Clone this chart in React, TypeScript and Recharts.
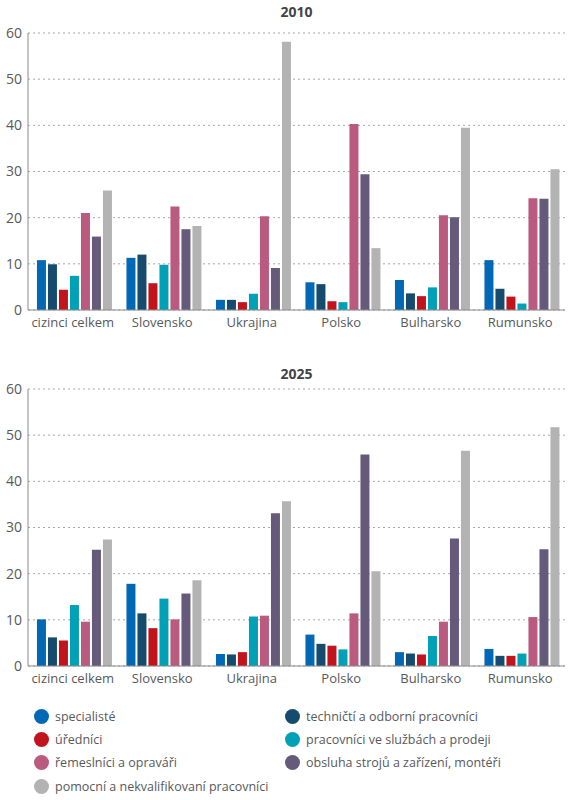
import React from "react"
import { BarChart, Bar, XAxis, YAxis, CartesianGrid } from "recharts"

const categories = ["cizinci celkem", "Slovensko", "Ukrajina", "Polsko", "Bulharsko", "Rumunsko"]
const yTicks = [0, 10, 20, 30, 40, 50, 60]

const seriesNames = [
  "specialisté",
  "techničtí a odborní pracovníci",
  "úředníci",
  "pracovníci ve službách a prodeji",
  "řemeslníci a opraváři",
  "obsluha strojů a zařízení, montéři",
  "pomocní a nekvalifikovaní pracovníci",
]
const colors = ["#0068b4", "#154b6c", "#c1141c", "#00a0b6", "#ba5a7e", "#665a7b", "#b3b3b3"]

// 2010
const specialiste2010 = [10.8, 11.3, 2.2, 6.0, 6.5, 10.8]
const technicti2010 = [9.9, 12.0, 2.2, 5.6, 3.6, 4.6]
const urednici2010 = [4.4, 5.8, 1.7, 1.9, 3.0, 2.9]
const sluzby2010 = [7.4, 9.8, 3.5, 1.7, 4.9, 1.4]
const remeslnici2010 = [21.0, 22.4, 20.3, 40.3, 20.5, 24.2]
const obsluha2010 = [15.9, 17.5, 9.1, 29.4, 20.1, 24.1]
const pomocni2010 = [25.9, 18.2, 58.1, 13.4, 39.5, 30.5]

// 2025
const specialiste2025 = [10.1, 17.8, 2.6, 6.8, 3.0, 3.7]
const technicti2025 = [6.2, 11.4, 2.5, 4.8, 2.7, 2.2]
const urednici2025 = [5.5, 8.2, 3.0, 4.4, 2.5, 2.2]
const sluzby2025 = [13.2, 14.6, 10.7, 3.6, 6.5, 2.7]
const remeslnici2025 = [9.6, 10.1, 10.9, 11.4, 9.6, 10.6]
const obsluha2025 = [25.2, 15.7, 33.1, 45.8, 27.6, 25.3]
const pomocni2025 = [27.4, 18.6, 35.7, 20.5, 46.6, 51.7]

const keys = ["s0", "s1", "s2", "s3", "s4", "s5", "s6"]

function buildRows(series: number[][]) {
  return categories.map((name, i) => {
    const row: Record<string, string | number> = { name }
    series.forEach((vals, k) => (row[keys[k]] = vals[i]))
    return row
  })
}

const data2010 = buildRows([
  specialiste2010, technicti2010, urednici2010, sluzby2010, remeslnici2010, obsluha2010, pomocni2010,
])
const data2025 = buildRows([
  specialiste2025, technicti2025, urednici2025, sluzby2025, remeslnici2025, obsluha2025, pomocni2025,
])

const font = "'Open Sans', sans-serif"
const textColor = "#58595b"

function Panel({ data, title, top, titleTop }: { data: any[]; title: string; top: number; titleTop: number }) {
  return (
    <div style={{ position: "absolute", left: 0, top, width: 571, height: 345 }}>
      <div
        style={{
          position: "absolute",
          left: 28,
          width: 537,
          top: titleTop,
          lineHeight: "18px",
          textAlign: "center",
          fontWeight: 700,
          fontSize: 14,
          color: "#444",
          fontFamily: font,
        }}
      >
        {title}
      </div>
      <BarChart
        width={571}
        height={345}
        data={data}
        margin={{ top: 33, right: 6, left: 0, bottom: 0 }}
        barCategoryGap="10%"
        barGap={2}
      >
        <CartesianGrid vertical={false} stroke="#a8a8a8" strokeDasharray="2 3" />
        <XAxis
          dataKey="name"
          height={35}
          tickLine={false}
          axisLine={{ stroke: "#8c8c8c" }}
          tick={{ fill: textColor, fontSize: 13, fontFamily: font }}
          tickSize={6}
          tickMargin={2}
          interval={0}
        />
        <YAxis
          width={28}
          domain={[0, 60]}
          ticks={yTicks}
          tickLine={false}
          axisLine={{ stroke: "#8c8c8c" }}
          tick={{ fill: textColor, fontSize: 14, fontFamily: font }}
          tickSize={4}
          tickMargin={2}
        />
        {keys.map((k, i) => (
          <Bar key={k} dataKey={k} name={seriesNames[i]} fill={colors[i]} isAnimationActive={false} />
        ))}
      </BarChart>
    </div>
  )
}

const legendOrder = [0, 1, 2, 3, 4, 5, 6]

export default function App() {
  return (
    <div style={{ position: "absolute", left: 0, top: 0, width: 571, height: 800, background: "#fff" }}>
      <Panel data={data2010} title="2010" top={0} titleTop={3} />
      <Panel data={data2025} title="2025" top={356} titleTop={9} />
      {legendOrder.map((idx, n) => {
        const col = n % 2
        const row = Math.floor(n / 2)
        return (
          <div
            key={idx}
            style={{
              position: "absolute",
              left: col === 0 ? 34 : 285,
              top: 716 + row * 23.4 - 8,
              height: 16,
              display: "flex",
              alignItems: "center",
              fontFamily: font,
              fontSize: 12.5,
              color: textColor,
              whiteSpace: "nowrap",
            }}
          >
            <span
              style={{
                display: "inline-block",
                width: 15,
                height: 15,
                borderRadius: "50%",
                background: colors[idx],
                marginRight: 6,
              }}
            />
            {seriesNames[idx]}
          </div>
        )
      })}
    </div>
  )
}
